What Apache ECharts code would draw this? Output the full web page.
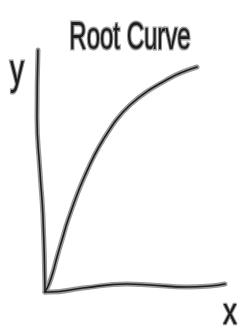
<!DOCTYPE html>
<html>
<head>
<meta charset="utf-8">
<script src="https://cdn.jsdelivr.net/npm/echarts@6/dist/echarts.min.js"></script>
<style>
  html, body { margin: 0; padding: 0; background: #fff; }
  #chart { width: 241px; height: 332px; }
</style>
</head>
<body>
<div id="chart"></div>
<script>
// sketched curve (origin at bottom-left corner)
var curveX = [0, 4, 8, 12, 17, 23, 38, 58, 85, 125, 152];
var curveY = [0, 8, 20, 35, 52, 72, 112, 152, 187, 214, 225];
// hand drawn axis strokes
var yAxisX = [-7, -8, -5, -2, 0];
var yAxisY = [242, 175, 120, 75, 0];
var xAxisX = [0, 5, 38, 82, 105, 142, 165, 180];
var xAxisY = [0, 0, 4, 8, 7, 5, 6, 8];
var titleText = 'Root Curve';
var xName = 'x';
var yName = 'y';

function pairs(xs, ys) {
  return xs.map(function (x, i) { return [x, ys[i]]; });
}

// each stroke is a wide grey line with a thin dark line on top
function stroke(name, data, smooth) {
  return [{
    name: name, type: 'line', data: data, smooth: smooth, showSymbol: false,
    lineStyle: { color: '#9a9a9a', width: 5, cap: 'round', join: 'round' },
    silent: true, z: 2
  }, {
    name: name, type: 'line', data: data, smooth: smooth, showSymbol: false,
    lineStyle: { color: '#1e1e1e', width: 1.6, cap: 'round', join: 'round' },
    silent: true, z: 3
  }];
}

// handwritten-ish label: tall, thin, grey halo
function label(text, x, y, size, sy) {
  return {
    type: 'text', x: x, y: y, scaleY: sy, silent: true,
    style: {
      text: text, fontSize: size, align: 'center', verticalAlign: 'middle',
      fill: '#1e1e1e', stroke: '#9a9a9a', lineWidth: 2,
      fontFamily: 'Liberation Sans, sans-serif'
    }
  };
}

var chart = echarts.init(document.getElementById('chart'));

var option = {
  animation: false,
  grid: { left: 35, right: 11, top: 42, bottom: 30 },
  xAxis: { type: 'value', min: -10, max: 185, show: false },
  yAxis: { type: 'value', min: -10, max: 250, show: false },
  graphic: [
    label(titleText, 130, 38, 24, 1.6),
    label(yName, 17, 72, 28, 1.5),
    label(xName, 230, 314, 28, 1.3)
  ],
  series: [].concat(
    stroke('yaxis', pairs(yAxisX, yAxisY), true),
    stroke('xaxis', pairs(xAxisX, xAxisY), true),
    stroke('curve', pairs(curveX, curveY), 0.4)
  )
};
chart.setOption(option);
</script>
</body>
</html>
